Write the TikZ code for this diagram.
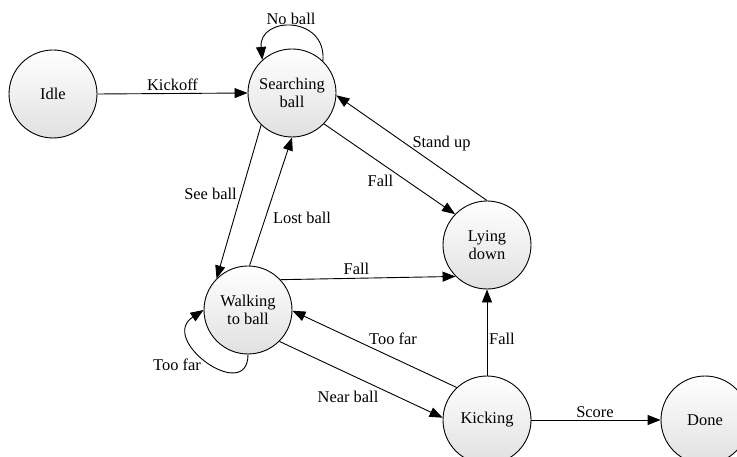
\documentclass[tikz,border=0pt]{standalone}
\usepackage{fontspec}
\setmainfont{Liberation Serif}
\usetikzlibrary{arrows.meta}
\begin{document}
\begin{tikzpicture}[x=1bp,y=-1bp,
  state/.style={circle, draw=black, line width=0.9bp, minimum size=88bp,
    inner sep=0pt, align=center, top color=white, bottom color=black!12,
    font=\fontsize{16.5}{18.5}\selectfont},
  arr/.style={draw=black, line width=0.9bp, -{Triangle[length=13bp,width=10bp]}},
  lbl/.style={anchor=base, inner sep=0pt, font=\fontsize{16.5}{18.5}\selectfont}]
\useasboundingbox (0,0) rectangle (737,457);
\clip (0,0) rectangle (737,457);

% states
\node[state] (I) at (53,94)   {Idle};
\node[state] (S) at (292,93)  {Searching\\ball};
\node[state] (L) at (487,245) {Lying\\down};
\node[state] (W) at (248,310) {Walking\\to ball};
\node[state] (K) at (487,420) {Kicking};
\node[state] (D) at (705,420) {Done};

% transitions
\draw[arr] (I.0) -- (S.180) node[lbl] at (172.5,91) {Kickoff};
\draw[arr] (S.46) .. controls +(4,-46) and +(-4,-44) .. (S.132)
  node[lbl] at (291,25) {No ball};
\draw[arr] (S.226) -- (W.135) node[lbl] at (210.5,200) {See ball};
\draw[arr] (W.88) -- (S.270) node[lbl] at (302,224) {Lost ball};
\draw[arr] (S.316) -- (L.136) node[lbl] at (380.5,187) {Fall};
\draw[arr] (L.90) -- (S.357) node[lbl] at (441.5,148) {Stand up};
\draw[arr] (W.43) -- (L.225) node[lbl] at (356.5,275) {Fall};
\draw[arr] (K.133) -- (W.359) node[lbl] at (393,345) {Too far};
\draw[arr] (W.315) -- (K.177) node[lbl] at (348,402) {Near ball};
\draw[arr] (W.270) .. controls +(0,50) and +(-46,30) .. (W.180)
  node[lbl] at (177,370) {Too far};
\draw[arr] (K.90) -- (L.270) node[lbl] at (502,345) {Fall};
\draw[arr] (K.0) -- (D.180) node[lbl] at (595,417) {Score};
\end{tikzpicture}
\end{document}
